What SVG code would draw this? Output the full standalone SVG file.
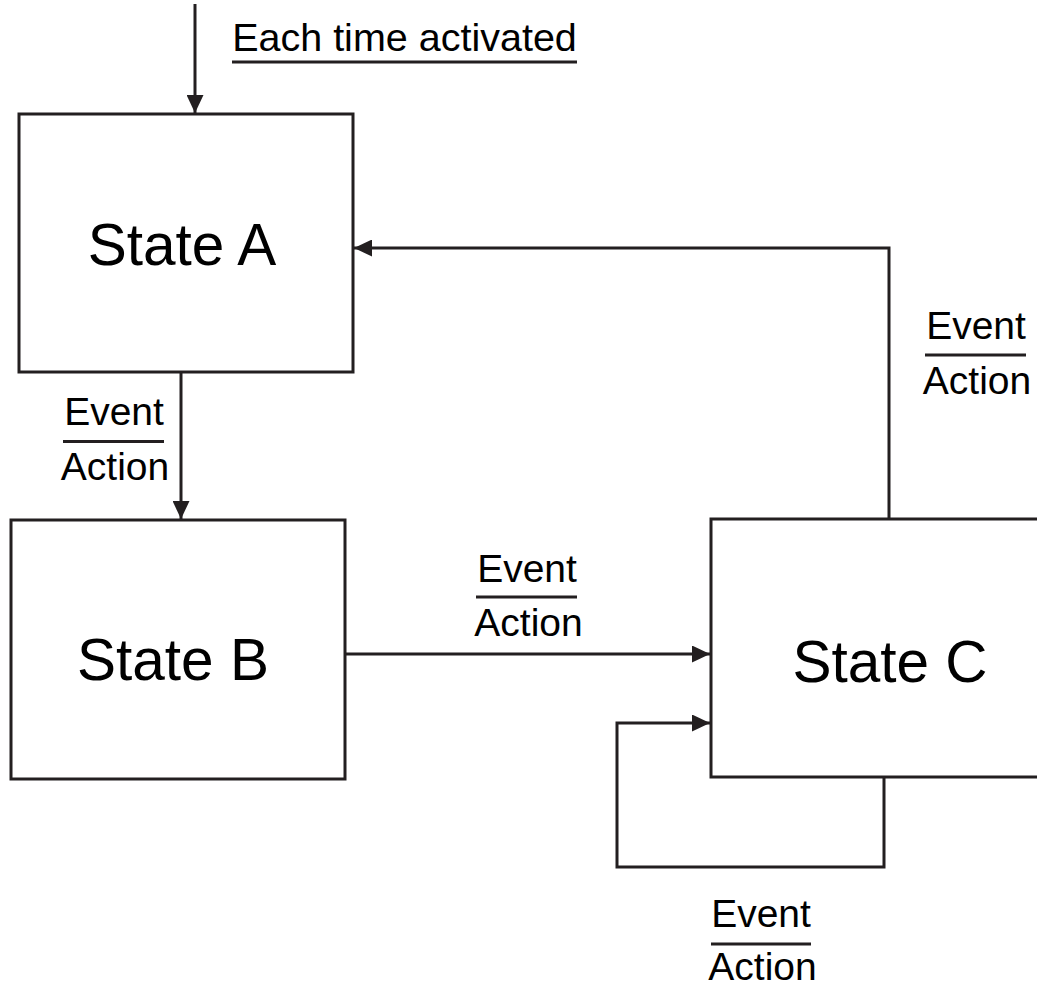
<svg xmlns="http://www.w3.org/2000/svg" width="1037" height="985" viewBox="0 0 1037 985">
  <style>
    .box { fill: #ffffff; stroke: #231f20; stroke-width: 3; }
    .wire { fill: none; stroke: #231f20; stroke-width: 3; }
    .bar { stroke: #231f20; stroke-width: 3; }
    .title { font-family: "Liberation Sans", Arial, sans-serif; font-size: 58.5px; fill: #000000; text-anchor: middle; }
    .lbl { font-family: "Liberation Sans", Arial, sans-serif; font-size: 39px; fill: #000000; text-anchor: middle; }
  </style>
  <defs>
    <marker id="head" viewBox="0 0 18 17" refX="18" refY="8.5" markerWidth="18" markerHeight="17" markerUnits="userSpaceOnUse" orient="auto">
      <path d="M0,0 L18,8.5 L0,17 Z" fill="#231f20"/>
    </marker>
  </defs>

  <rect width="1037" height="985" fill="#ffffff"/>

  <!-- entry label -->
  <g id="entry">
    <text class="lbl" x="404.5" y="51" style="font-size:39.5px">Each time activated</text>
    <line class="bar" x1="232" y1="62" x2="577" y2="62"/>
  </g>

  <!-- states -->
  <g id="state-a">
    <rect class="box" x="19" y="114" width="334" height="258"/>
    <text class="title" x="182" y="265">State A</text>
  </g>
  <g id="state-b">
    <rect class="box" x="11" y="520" width="334" height="259"/>
    <text class="title" x="173" y="680">State B</text>
  </g>
  <g id="state-c">
    <rect class="box" x="711" y="519" width="345" height="258"/>
    <text class="title" x="890" y="682">State C</text>
  </g>

  <!-- transitions -->
  <g id="connectors">
    <path class="wire" d="M195,4 V113" marker-end="url(#head)"/>
    <path class="wire" d="M181,372 V519" marker-end="url(#head)"/>
    <path class="wire" d="M346,654 H710" marker-end="url(#head)"/>
    <path class="wire" d="M889,519 V248 H354" marker-end="url(#head)"/>
    <path class="wire" d="M884,777 V867 H617 V723 H710" marker-end="url(#head)"/>
  </g>

  <!-- event / action labels -->
  <g id="label-ab">
    <text class="lbl" x="114" y="425">Event</text>
    <line class="bar" x1="63" y1="441.5" x2="164" y2="441.5"/>
    <text class="lbl" x="115" y="480">Action</text>
  </g>
  <g id="label-bc">
    <text class="lbl" x="527" y="582">Event</text>
    <line class="bar" x1="476" y1="597" x2="577" y2="597"/>
    <text class="lbl" x="528.5" y="636">Action</text>
  </g>
  <g id="label-ca">
    <text class="lbl" x="976" y="339">Event</text>
    <line class="bar" x1="925" y1="355" x2="1026" y2="355"/>
    <text class="lbl" x="977" y="394">Action</text>
  </g>
  <g id="label-cc">
    <text class="lbl" x="761" y="927">Event</text>
    <line class="bar" x1="711" y1="944" x2="811" y2="944"/>
    <text class="lbl" x="762.5" y="980">Action</text>
  </g>
</svg>
